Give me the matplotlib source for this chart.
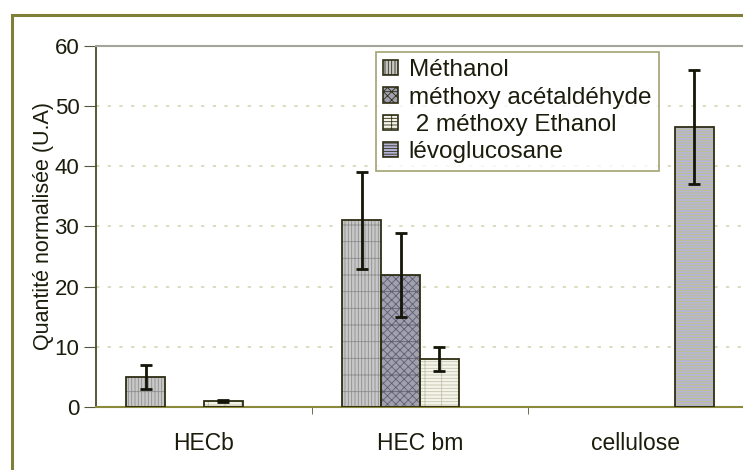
import numpy as np
import matplotlib
matplotlib.use("Agg")
import matplotlib.pyplot as plt
from matplotlib.patches import Rectangle

# data
categories = ["HECb", "HEC bm", "cellulose"]
series = ["Méthanol", "méthoxy acétaldéhyde", " 2 méthoxy Ethanol", "lévoglucosane"]
methanol = [5, 31, 0]
methanol_err = [2, 8, 0]
acetaldehyde = [0, 22, 0]
acetaldehyde_err = [0, 7, 0]
ethanol = [1, 8, 0]
ethanol_err = [0.2, 2, 0]
levoglucosane = [0, 0, 46.5]
levoglucosane_err = [0, 0, 9.5]

values = [methanol, acetaldehyde, ethanol, levoglucosane]
errors = [methanol_err, acetaldehyde_err, ethanol_err, levoglucosane_err]

faces = ["#c8c8c8", "#a0a0b0", "#f4f4ea", "#b4b4d8"]
hatches = ["|||||-", "xxxx-", "-----|", "------"]
hatch_cols = ["#8e8e8e", "#5e5e6e", "#c4c4ac", "#c4c47a"]
edge = "#2e2e14"
txt = "#1c1c0c"

plt.rcParams["font.family"] = ["Liberation Sans", "DejaVu Sans"]
plt.rcParams["hatch.linewidth"] = 0.6

fig = plt.figure(figsize=(7.43, 4.70), dpi=100)
ax = fig.add_axes([96 / 743, 63 / 470, 648 / 743, 361 / 470])

# outer chart border
fig.patches.append(Rectangle((12 / 743, -0.1), 1.0, 1 - 15 / 470 + 0.1,
                             transform=fig.transFigure, fill=False,
                             edgecolor="#7f7f3a", lw=2.2, zorder=0))

x = np.arange(len(categories))
w = 0.18
for i in range(len(series)):
    vals = np.array(values[i], dtype=float)
    errs = np.array(errors[i], dtype=float)
    mask = vals > 0
    pos = (x + (i - 1.5) * w)[mask]
    ax.bar(pos, vals[mask], w, color=faces[i], hatch=hatches[i],
           edgecolor=hatch_cols[i], lw=0, zorder=2)
    ax.bar(pos, vals[mask], w, fill=False, edgecolor=edge, lw=1.3, zorder=3)
    ax.errorbar(pos, vals[mask], yerr=errs[mask], fmt="none", ecolor="#141408",
                elinewidth=2, capsize=4, capthick=2, zorder=4)

# legend proxies
handles = []
for i in range(len(series)):
    handles.append(Rectangle((0, 0), 1, 1, facecolor=faces[i], hatch=hatches[i],
                             edgecolor=edge, lw=1.2))
leg = ax.legend(handles, series, loc="upper left",
                bbox_to_anchor=(376 / 743, 1 - 52 / 470),
                bbox_transform=fig.transFigure, fontsize=17.5,
                frameon=True, fancybox=False, handlelength=0.6,
                handleheight=0.6, handletextpad=0.45, labelspacing=0.22,
                borderpad=0.3, borderaxespad=0)
leg.get_frame().set_edgecolor("#8a8a50")
leg.get_frame().set_linewidth(1.2)
for t in leg.get_texts():
    t.set_color(txt)

ax.set_xlim(-0.5, 2.5)
ax.set_ylim(0, 60)
ax.set_yticks(range(0, 61, 10))
ax.set_xticks(x)
ax.set_xticklabels(categories, fontsize=16.5, color=txt)
ax.set_xticks([0.5, 1.5], minor=True)
ax.tick_params(axis="x", which="major", length=0, pad=18)
ax.tick_params(axis="x", which="minor", length=5, color="#555540", direction="out")
ax.tick_params(axis="y", length=9, color="#555540", labelsize=16,
               labelcolor=txt, pad=3)
ax.set_ylabel("Quantité normalisée (U.A)", fontsize=15.5, color=txt, labelpad=0)
ax.yaxis.grid(True, color="#d6d6b4", linestyle=(0, (2, 5)), lw=1.2, zorder=0)
ax.set_axisbelow(True)

ax.spines["left"].set_color("#4a4a2a")
ax.spines["left"].set_linewidth(1.3)
ax.spines["bottom"].set_color("#8a8a3a")
ax.spines["bottom"].set_linewidth(1.5)
ax.spines["top"].set_color("#a4a49a")
ax.spines["top"].set_linewidth(1.5)
ax.spines["right"].set_visible(False)

fig.savefig("out.png", dpi=100)
